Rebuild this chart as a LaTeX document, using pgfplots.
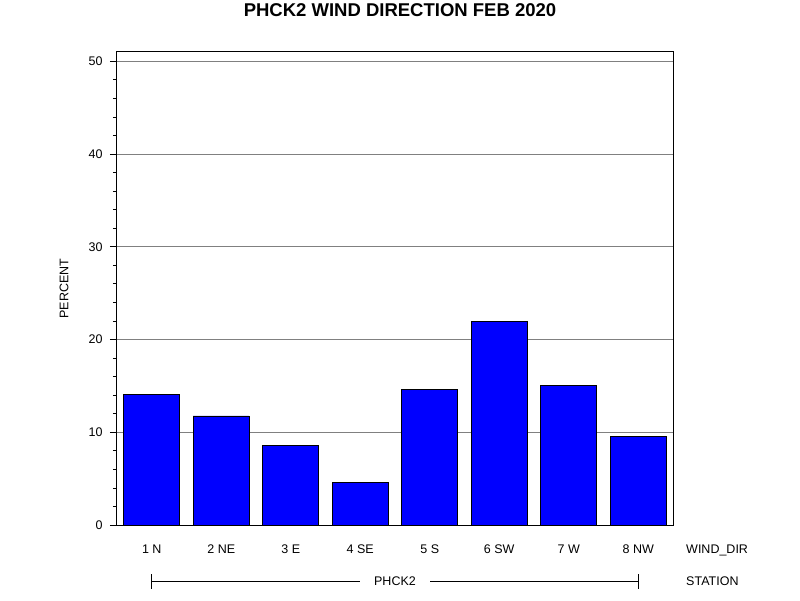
\documentclass[border=0pt]{standalone}
\usepackage{pgfplots}
\pgfplotsset{compat=1.18}
\usepackage{fontspec}
\setmainfont{Liberation Sans}
\begin{document}
\begin{tikzpicture}[x=1pt,y=1pt]
\path[fill=white] (-117,-75) rectangle (683,525);
\begin{axis}[at={(0,0)}, anchor=south west, width=556pt, height=473pt, scale only axis,
  xmin=0.5, xmax=8.5, ymin=0, ymax=51,
  clip=false,
  axis line style={black, line width=1pt},
  xtick={1,...,8},
  xticklabels={1 N,2 NE,3 E,4 SE,5 S,6 SW,7 W,8 NW},
  x tick style={draw=none},
  xticklabel style={anchor=base, yshift=-21pt, font=\fontsize{12.5}{14}\selectfont},
  ytick={0,10,...,50},
  minor y tick num=4,
  ytick pos=left,
  tick align=outside,
  major tick length=7pt, minor tick length=4pt,
  y tick style={black, line width=0.8pt},
  yticklabel style={font=\fontsize{12.5}{14}\selectfont, xshift=-4pt},
  /pgf/number format/assume math mode=true,
  ymajorgrids, grid style={gray, line width=0.8pt},
  ylabel={PERCENT},
  ylabel style={at={(axis description cs:-0.095,0.5)}, anchor=center, font=\fontsize{12.5}{14}\selectfont},
  title={PHCK2 WIND DIRECTION FEB 2020},
  title style={at={(axis description cs:0.509,1)}, anchor=base, yshift=29pt, font=\bfseries\fontsize{18.5}{21}\selectfont},
]
\addplot[ybar, bar width=56pt, fill=blue, draw=black, line width=0.8pt] coordinates {
(1,14.1) (2,11.76) (3,8.6) (4,4.6) (5,14.6) (6,21.9) (7,15.0) (8,9.5)};
\draw[black, line width=0.8pt] ([yshift=-56pt]axis cs:1,0) -- ([yshift=-56pt]axis cs:8,0);
\draw[black, line width=0.8pt] ([yshift=-49pt]axis cs:1,0) -- ([yshift=-64pt]axis cs:1,0);
\draw[black, line width=0.8pt] ([yshift=-49pt]axis cs:8,0) -- ([yshift=-64pt]axis cs:8,0);
\node[fill=white, inner xsep=14pt, anchor=base, font=\fontsize{12.5}{14}\selectfont] at ([yshift=-60pt]axis cs:4.5,0) {PHCK2};
\node[anchor=base west, inner sep=0pt, font=\fontsize{12.5}{14}\selectfont] at ([yshift=-28pt, xshift=569pt]axis cs:0.5,0) {WIND\_DIR};
\node[anchor=base west, inner sep=0pt, font=\fontsize{12.5}{14}\selectfont] at ([yshift=-60pt, xshift=569pt]axis cs:0.5,0) {STATION};
\end{axis}
\end{tikzpicture}
\end{document}
